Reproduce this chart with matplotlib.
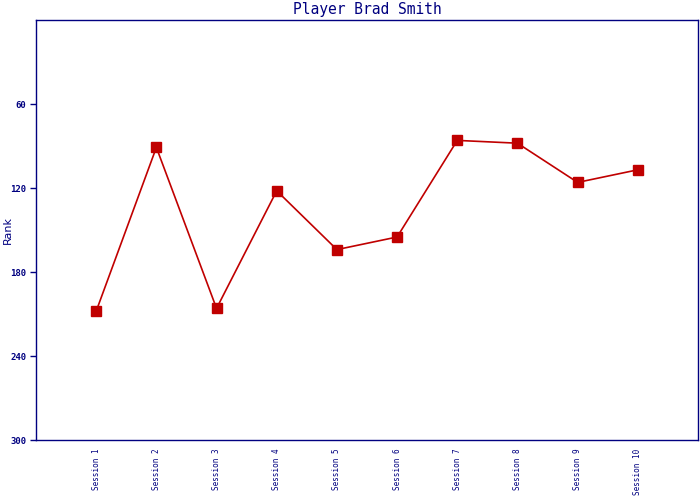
import matplotlib
matplotlib.use("Agg")
import matplotlib.pyplot as plt

sessions = ["Session 1", "Session 2", "Session 3", "Session 4", "Session 5",
            "Session 6", "Session 7", "Session 8", "Session 9", "Session 10"]
ranks = [208, 91, 206, 122, 164, 155, 86, 88, 116, 107]
y_ticks = [60, 120, 180, 240, 300]

navy = "#000080"
red = "#c00000"

fig = plt.figure(figsize=(7, 5), dpi=100)
ax = fig.add_axes([36/700, 60/500, 662/700, 420/500])
x = list(range(1, len(sessions) + 1))
ax.plot(x, ranks, color=red, lw=1.2, marker="s", markersize=6.5,
        markerfacecolor=red, markeredgecolor=red)
ax.set_xlim(0, len(sessions) + 1)
ax.set_ylim(300, 0)
ax.set_yticks(y_ticks)
ax.set_yticklabels([str(v) for v in y_ticks], fontsize=6.5, fontweight="bold",
                   family="DejaVu Sans Mono", color=navy)
ax.set_xticks(x)
ax.set_xticklabels(sessions, rotation=90, fontsize=5.5, family="DejaVu Sans Mono",
                   color=navy, va="top")
ax.tick_params(axis="x", length=0, pad=6)
ax.tick_params(axis="y", length=4, color=navy, width=1, pad=3)
for s in ax.spines.values():
    s.set_color(navy)
    s.set_linewidth(1)
fig.text(8/700, 1 - 230/500, "Rank", fontsize=8, color=navy, rotation=90,
         ha="center", va="center")
ax.set_title("Player Brad Smith", fontsize=10.5, family="DejaVu Sans Mono",
             color=navy, pad=4)
fig.savefig("out.png", dpi=100)
